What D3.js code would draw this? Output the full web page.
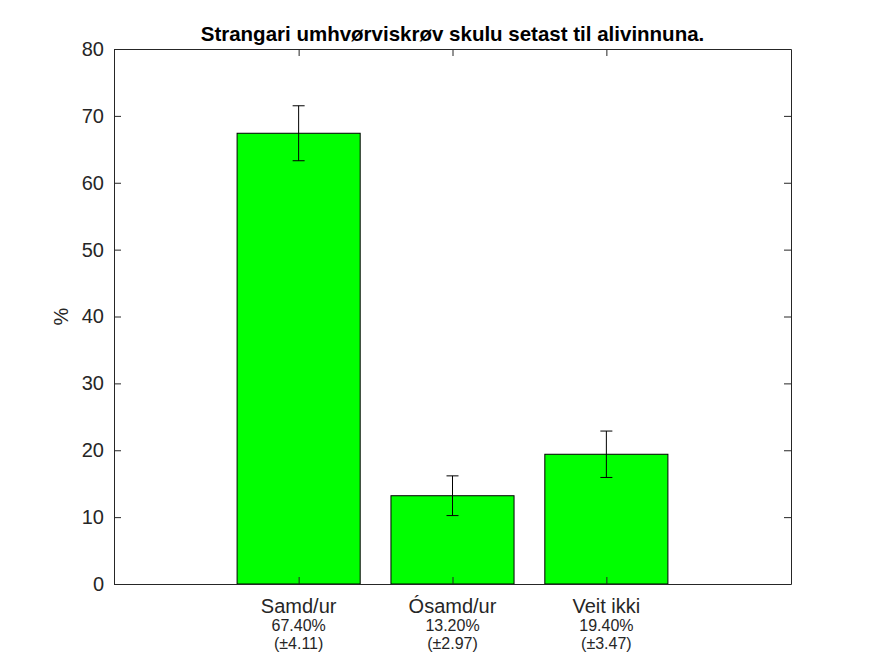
<!DOCTYPE html>
<html>
<head>
<meta charset="utf-8">
<script src="https://cdn.jsdelivr.net/npm/d3@7"></script>
<style>
body{margin:0;background:#fff;}
text{font-family:Arial,"Liberation Sans",sans-serif;}
</style>
</head>
<body>
<svg id="chart"></svg>
<script>
var categories = ["Samd/ur","Ósamd/ur","Veit ikki"];
var values = [67.40, 13.20, 19.40];
var errors = [4.11, 2.97, 3.47];
var yTicks = [0,10,20,30,40,50,60,70,80];
var title = "Strangari umhvørviskrøv skulu setast til alivinnuna.";

var screen = {width:875, height:656};
var margins = {top:49, left:114, right:84, bottom:72};
var graph = {
    width:screen.width-margins.left-margins.right,
    height:screen.height-margins.top-margins.bottom
};

var svg = d3.select("#chart")
    .attr("width",screen.width)
    .attr("height",screen.height);

var xScale = d3.scaleLinear()
    .domain([-0.2,4.2])
    .range([0,graph.width]);
var yScale = d3.scaleLinear()
    .domain([0,80])
    .range([graph.height,0]);

var g = svg.append("g")
    .attr("transform","translate("+margins.left+","+margins.top+")");

var barW = xScale(0.8)-xScale(0);

g.selectAll("rect.bar")
    .data(values)
    .enter()
    .append("rect")
    .attr("class","bar")
    .attr("x",function(d,i){return xScale(i+1)-barW/2;})
    .attr("y",function(d){return yScale(d);})
    .attr("width",barW)
    .attr("height",function(d){return yScale(0)-yScale(d);})
    .attr("fill","#00ff00")
    .attr("stroke","#000")
    .attr("stroke-width",1);

// error bars
var cap = 6;
var eb = g.selectAll("g.err")
    .data(values)
    .enter()
    .append("g")
    .attr("stroke","#000")
    .attr("stroke-width",1);
eb.append("line")
    .attr("x1",function(d,i){return xScale(i+1);})
    .attr("x2",function(d,i){return xScale(i+1);})
    .attr("y1",function(d,i){return yScale(d-errors[i]);})
    .attr("y2",function(d,i){return yScale(d+errors[i]);});
eb.append("line")
    .attr("x1",function(d,i){return xScale(i+1)-cap;})
    .attr("x2",function(d,i){return xScale(i+1)+cap;})
    .attr("y1",function(d,i){return yScale(d+errors[i]);})
    .attr("y2",function(d,i){return yScale(d+errors[i]);});
eb.append("line")
    .attr("x1",function(d,i){return xScale(i+1)-cap;})
    .attr("x2",function(d,i){return xScale(i+1)+cap;})
    .attr("y1",function(d,i){return yScale(d-errors[i]);})
    .attr("y2",function(d,i){return yScale(d-errors[i]);});

// axes (ticks inside, box around)
var xPos = categories.map(function(c,i){return i+1;});
var yAxis = d3.axisLeft(yScale).tickValues(yTicks).tickSizeInner(-7).tickSizeOuter(0).tickPadding(10);
var yAxisR = d3.axisRight(yScale).tickValues(yTicks).tickSizeInner(-7).tickSizeOuter(0).tickFormat("");
var xAxis = d3.axisBottom(xScale).tickValues(xPos).tickSizeInner(-7).tickSizeOuter(0).tickFormat("");
var xAxisT = d3.axisTop(xScale).tickValues(xPos).tickSizeInner(-7).tickSizeOuter(0).tickFormat("");

var ya = g.append("g").call(yAxis);
g.append("g").attr("transform","translate("+graph.width+",0)").call(yAxisR);
g.append("g").attr("transform","translate(0,"+graph.height+")").call(xAxis);
g.append("g").call(xAxisT);

g.selectAll(".domain").attr("stroke","#262626");
g.selectAll(".tick line").attr("stroke","#262626");
ya.selectAll("text")
    .attr("font-size","20px")
    .attr("fill","#262626")
    .attr("font-family","Arial,'Liberation Sans',sans-serif");

// x labels
var xl = g.selectAll("g.xl")
    .data(categories)
    .enter()
    .append("g")
    .attr("transform",function(d,i){return "translate("+xScale(i+1)+","+graph.height+")";})
    .attr("text-anchor","middle")
    .attr("fill","#262626");
xl.append("text")
    .attr("y",29)
    .attr("font-size","20px")
    .text(function(d){return d;});
xl.append("text")
    .attr("y",47)
    .attr("font-size","16px")
    .text(function(d,i){return values[i].toFixed(2)+"%";});
xl.append("text")
    .attr("y",65)
    .attr("font-size","16px")
    .text(function(d,i){return "(±"+errors[i].toFixed(2)+")";});

// y label
svg.append("text")
    .attr("transform","translate(68,"+(margins.top+graph.height/2)+") rotate(-90)")
    .attr("text-anchor","middle")
    .attr("font-size","20px")
    .attr("fill","#262626")
    .text("%");

// title
svg.append("text")
    .attr("x",margins.left+graph.width/2)
    .attr("y",41)
    .attr("text-anchor","middle")
    .attr("font-size","20.5px")
    .attr("font-weight","bold")
    .attr("fill","#000")
    .text(title);
</script>
</body>
</html>
